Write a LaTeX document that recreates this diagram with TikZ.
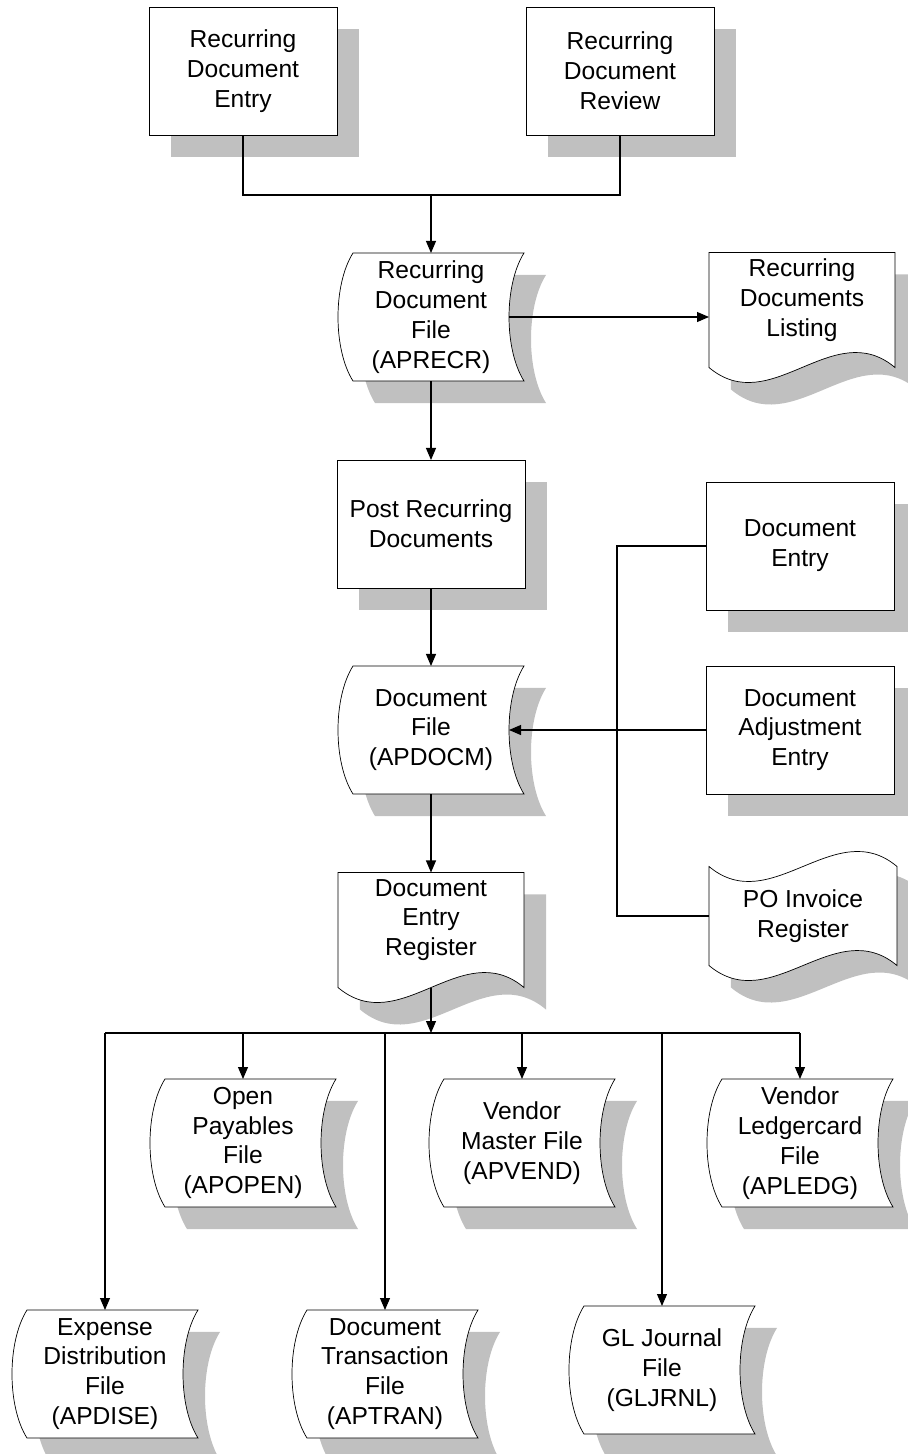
\documentclass[tikz,border=0pt]{standalone}
\usepackage{fontspec}
\setmainfont{Liberation Sans}
\usetikzlibrary{
  arrows.meta,
  backgrounds
}
\definecolor{shadowgray}{RGB}{192,192,192}

% outlines, taken from the anchors of a node
\newcommand\procpath[1]{(#1.north west) rectangle (#1.south east)}
\newcommand\filepath[1]{([xshift=3mm]#1.north west) -- (#1.north east)
  .. controls ([xshift=-4mm,yshift=-6.35mm]#1.north east) and ([xshift=-4mm,yshift=6.35mm]#1.south east) .. (#1.south east)
  -- ([xshift=3mm]#1.south west)
  .. controls ([xshift=-1mm,yshift=6.35mm]#1.south west) and ([xshift=-1mm,yshift=-6.35mm]#1.north west) .. ([xshift=3mm]#1.north west) -- cycle}
\newcommand\docpath[1]{(#1.north west) -- (#1.north east) -- ([yshift=-4mm]#1.south east)
  .. controls ([xshift=-12.4mm,yshift=6.4mm]#1.south east) and ([xshift=12.4mm,yshift=-14.4mm]#1.south west) .. ([yshift=-4mm]#1.south west) -- cycle}
\newcommand\tapepath[1]{(#1.north west)
  .. controls ([xshift=12.4mm,yshift=-10.4mm]#1.north west) and ([xshift=-12.4mm,yshift=10.4mm]#1.north east) .. (#1.north east)
  -- (#1.south east)
  .. controls ([xshift=-12.4mm,yshift=10.4mm]#1.south east) and ([xshift=12.4mm,yshift=-10.4mm]#1.south west) .. (#1.south west) -- cycle}

\begin{document}
\begin{tikzpicture}[
  x=0.02cm, y=-0.02cm, line width=0.6pt,
  >={Triangle[length=2.4mm,width=2mm]},
  every node/.style = {align=center, inner sep=0pt,
    font=\fontsize{14}{17}\selectfont},
  procbox/.style = {minimum width=3.74cm, minimum height=2.54cm},
  filebox/.style = {minimum width=3.7cm, minimum height=2.54cm},
  docbox/.style = {minimum width=3.7cm, minimum height=1.88cm},
  tapebox/.style = {minimum width=3.74cm, minimum height=1.96cm}]
  \useasboundingbox (0,0) rectangle (907,1454);

  \node[procbox] (rde) at (243,71) {Recurring\\Document\\Entry};
  \node[procbox] (rdr) at (620,71) {Recurring\\Document\\Review};
  \node[filebox] (aprecr) at (431,317) {Recurring\\Document\\File\\(APRECR)};
  \node[docbox] (listing) at (802,300) {Recurring\\Documents\\Listing};
  \node[procbox] (post) at (431,524) {Post Recurring\\Documents};
  \node[procbox] (docentry) at (800,546) {Document\\Entry};
  \node[procbox] (adjust) at (800,730) {Document\\Adjustment\\Entry};
  \node[filebox] (apdocm) at (431,730) {Document\\File\\(APDOCM)};
  \node[tapebox] (po) at (803,916) {PO Invoice\\Register};
  \node[docbox] (register) at (431,920) {Document\\Entry\\Register};
  \node[filebox] (apopen) at (243,1143) {Open\\Payables\\File\\(APOPEN)};
  \node[filebox] (apvend) at (522,1143) {Vendor\\Master File\\(APVEND)};
  \node[filebox] (apledg) at (800,1143) {Vendor\\Ledgercard\\File\\(APLEDG)};
  \node[filebox] (apdise) at (105,1374) {Expense\\Distribution\\File\\(APDISE)};
  \node[filebox] (aptran) at (385,1374) {Document\\Transaction\\File\\(APTRAN)};
  \node[filebox] (gljrnl) at (662,1370) {GL Journal\\File\\(GLJRNL)};

  % shadows and outlines
  \begin{scope}[on background layer]
    \begin{scope}[transform canvas={shift={(0.44cm,-0.44cm)}}, shadowgray]
      \foreach \n in {rde,rdr,post,docentry,adjust} \fill \procpath{\n};
      \foreach \n in {aprecr,apdocm,apopen,apvend,apledg,apdise,aptran,gljrnl} \fill \filepath{\n};
      \foreach \n in {listing,register} \fill \docpath{\n};
      \fill \tapepath{po};
    \end{scope}
    \foreach \n in {rde,rdr,post,docentry,adjust} \filldraw[fill=white] \procpath{\n};
    \foreach \n in {aprecr,apdocm,apopen,apvend,apledg,apdise,aptran,gljrnl} \filldraw[fill=white] \filepath{\n};
    \foreach \n in {listing,register} \filldraw[fill=white] \docpath{\n};
    \filldraw[fill=white] \tapepath{po};
  \end{scope}

  \coordinate (join) at (431,195);
  \coordinate (trunk) at (617,730);
  \coordinate (bus) at (431,1033);

  \draw (rde.south) |- (join) -| (rdr.south);
  \draw[->] (join) -- (aprecr.north);
  \draw[->] ([xshift=-3mm]aprecr.east) -- (aprecr.east -| listing.west);
  \draw[->] (aprecr.south) -- (post.north);
  \draw[->] (post.south) -- (apdocm.north);
  \draw[->] (apdocm.south) -- (register.north);
  \draw (docentry.west) -| (trunk) |- (po.west);
  \draw[->] (adjust.west) -- ([xshift=-3mm]apdocm.east);
  \draw[->] ([yshift=-4mm]register.south) -- (bus);
  \draw (bus -| apdise.north) -- (bus -| apledg.north);
  \foreach \n in {apopen,apvend,apledg,apdise,aptran,gljrnl}
    \draw[->] (bus -| \n.north) -- (\n.north);
\end{tikzpicture}
\end{document}
